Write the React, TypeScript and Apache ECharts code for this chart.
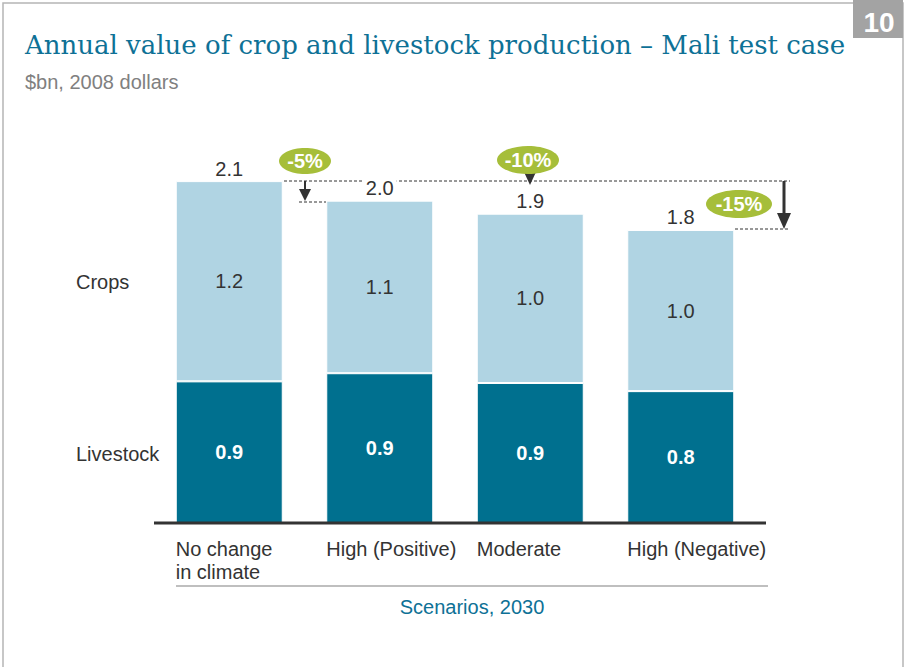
import React, { useEffect, useRef } from "react";
import * as echarts from "echarts";

const categories = ["No change\nin climate", "High (Positive)", "Moderate", "High (Negative)"];
const livestock = [0.87, 0.92, 0.86, 0.81];
const crops = [1.23, 1.06, 1.04, 0.99];
const totals = [2.1, 1.98, 1.9, 1.8];
const changeLabels = ["-5%", "-10%", "-15%"];

const FONT = "'Liberation Sans', Arial, sans-serif";
const TEAL = "#0E7196";
const GREEN = "#A6BE3A";

export default function App() {
  const ref = useRef<HTMLDivElement>(null);
  useEffect(() => {
    if (!ref.current) return;
    const chart = echarts.init(ref.current, undefined, { renderer: "svg" });
    const dash = { stroke: "#333", lineWidth: 1, lineDash: [3, 2] };
    const badge = (cx: number, cy: number, rx: number, ry: number, t: string) => [
      { type: "ellipse", shape: { cx, cy, rx, ry }, style: { fill: GREEN } },
      {
        type: "text",
        x: cx,
        y: cy,
        style: { text: t, fill: "#fff", font: `bold 20px ${FONT}`, align: "center", verticalAlign: "middle" },
      },
    ];
    chart.setOption({
      animation: false,
      grid: { left: 154, right: 150, top: 116, bottom: 144 },
      xAxis: {
        type: "category",
        data: categories,
        axisLine: { show: false },
        axisTick: { show: false },
        axisLabel: {
          align: "left",
          padding: [0, 0, 0, -53.5],
          margin: 14,
          fontSize: 20,
          lineHeight: 23,
          color: "#333",
          fontFamily: FONT,
          interval: 0,
        },
      },
      yAxis: { type: "value", min: 0, max: 2.5, show: false, splitLine: { show: false } },
      series: [
        {
          type: "bar",
          stack: "a",
          data: livestock,
          barWidth: 107,
          itemStyle: { color: "#00708F", borderColor: "#fff", borderWidth: 1 },
          label: {
            show: true,
            position: "inside",
            color: "#fff",
            fontWeight: "bold",
            fontSize: 20,
            fontFamily: FONT,
            formatter: (p: any) => p.value.toFixed(1),
          },
        },
        {
          type: "bar",
          stack: "a",
          data: crops,
          barWidth: 107,
          itemStyle: { color: "#B0D4E3", borderColor: "#fff", borderWidth: 1 },
          label: {
            show: true,
            position: "inside",
            color: "#333",
            fontSize: 20,
            fontFamily: FONT,
            formatter: (p: any) => p.value.toFixed(1),
          },
        },
        {
          type: "scatter",
          data: totals,
          symbolSize: 1,
          itemStyle: { color: "rgba(0,0,0,0)", opacity: 1 },
          z: 5,
          label: {
            show: true,
            position: "top",
            distance: 2,
            color: "#333",
            fontSize: 20,
            fontFamily: FONT,
            backgroundColor: "#fff",
            padding: [0, 3],
            formatter: (p: any) => p.value.toFixed(1),
          },
        },
      ],
      graphic: [
        { type: "rect", shape: { x: 3, y: 3, width: 900, height: 700 }, style: { fill: "none", stroke: "#b5b5b5", lineWidth: 1.5 } },
        { type: "rect", shape: { x: 853, y: 0, width: 50, height: 38 }, style: { fill: "#A3A3A3" } },
        {
          type: "text",
          x: 879,
          y: 22,
          style: { text: "10", fill: "#fff", font: `bold 28px 'Liberation Sans Narrow', ${FONT}`, align: "center", verticalAlign: "middle" },
        },
        {
          type: "text",
          x: 25,
          y: 45,
          style: {
            text: "Annual value of crop and livestock production \u2013 Mali test case",
            fill: TEAL,
            font: "26px 'DejaVu Serif', Georgia, serif",
            verticalAlign: "middle",
          },
        },
        {
          type: "text",
          x: 25,
          y: 82,
          style: { text: "$bn, 2008 dollars", fill: "#808080", font: `20px ${FONT}`, verticalAlign: "middle" },
        },
        { type: "text", x: 76, y: 282, style: { text: "Crops", fill: "#333", font: `20px ${FONT}`, verticalAlign: "middle" } },
        { type: "text", x: 76, y: 454, style: { text: "Livestock", fill: "#333", font: `20px ${FONT}`, verticalAlign: "middle" } },
        { type: "line", shape: { x1: 154, y1: 523, x2: 766, y2: 523 }, style: { stroke: "#333", lineWidth: 3 }, z: 10 },
        { type: "line", shape: { x1: 176, y1: 586, x2: 768, y2: 586 }, style: { stroke: "#aaa", lineWidth: 1.5 } },
        {
          type: "text",
          x: 472,
          y: 607,
          style: { text: "Scenarios, 2030", fill: TEAL, font: `20px ${FONT}`, align: "center", verticalAlign: "middle" },
        },
        { type: "line", shape: { x1: 284, y1: 181, x2: 790, y2: 181 }, style: dash, z: 1 },
        { type: "line", shape: { x1: 299, y1: 202, x2: 326, y2: 202 }, style: dash },
        { type: "line", shape: { x1: 735, y1: 229, x2: 790, y2: 229 }, style: dash },
        { type: "line", shape: { x1: 305, y1: 181, x2: 305, y2: 192 }, style: { stroke: "#333", lineWidth: 2 } },
        { type: "polygon", shape: { points: [[299, 189], [311, 189], [305, 201]] }, style: { fill: "#333" } },
        { type: "line", shape: { x1: 784, y1: 181, x2: 784, y2: 216 }, style: { stroke: "#333", lineWidth: 3 } },
        { type: "polygon", shape: { points: [[777, 213], [791, 213], [784, 229]] }, style: { fill: "#333" } },
        { type: "polygon", shape: { points: [[524, 172], [536, 172], [530, 185]] }, style: { fill: "#333" } },
        ...badge(305, 161, 26, 13, changeLabels[0]),
        ...badge(528, 160, 31, 14, changeLabels[1]),
        ...badge(739, 204, 33, 14, changeLabels[2]),
      ],
    });
    return () => chart.dispose();
  }, []);
  return <div ref={ref} style={{ width: 906, height: 667, position: "absolute", left: 0, top: 0 }} />;
}
